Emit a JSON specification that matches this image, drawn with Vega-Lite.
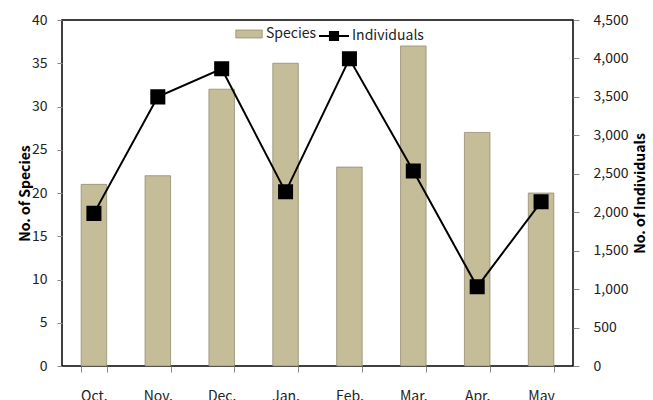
{
  "$schema": "https://vega.github.io/schema/vega-lite/v6.json",
  "width": 511,
  "height": 346,
  "autosize": {"type": "none"},
  "padding": {"left": 62, "top": 20, "right": 80, "bottom": 34},
  "background": "white",
  "config": {
    "view": {"stroke": "black", "strokeWidth": 1.5},
    "font": "Noto Sans CJK KR",
    "axis": {
      "labelFont": "Noto Sans CJK KR",
      "titleFont": "Noto Sans CJK KR",
      "labelFontSize": 14,
      "titleFontSize": 14,
      "labelColor": "#222",
      "titleColor": "black",
      "tickColor": "#888",
      "domainColor": "black",
      "grid": false
    },
    "legend": {"labelFont": "Noto Sans CJK KR", "labelFontSize": 14, "labelColor": "#222"}
  },
  "data": {
    "values": [
      {"month": "Oct.", "species": 21, "individuals": 1985},
      {"month": "Nov.", "species": 22, "individuals": 3500},
      {"month": "Dec.", "species": 32, "individuals": 3865},
      {"month": "Jan.", "species": 35, "individuals": 2265},
      {"month": "Feb.", "species": 23, "individuals": 3995},
      {"month": "Mar.", "species": 37, "individuals": 2535},
      {"month": "Apr.", "species": 27, "individuals": 1030},
      {"month": "May", "species": 20, "individuals": 2135}
    ]
  },
  "encoding": {
    "x": {
      "field": "month",
      "type": "nominal",
      "sort": null,
      "scale": {"paddingInner": 0.6, "paddingOuter": 0.3},
      "axis": {"title": null, "labelAngle": 0, "tickBand": "extent", "tickSize": 6, "labelPadding": 17, "domain": false}
    }
  },
  "layer": [
    {
      "mark": {"type": "bar", "stroke": "#8a8468", "strokeWidth": 0.7},
      "encoding": {
        "y": {
          "field": "species",
          "type": "quantitative",
          "scale": {"domain": [0, 40]},
          "axis": {"title": "No. of Species", "values": [0,5,10,15,20,25,30,35,40], "tickSize": 5, "labelPadding": 10, "titlePadding": -1, "domain": false}
        },
        "fill": {
          "datum": "Species",
          "scale": {"range": ["#C4BD97"]},
          "legend": {
            "title": null,
            "orient": "none",
            "legendX": 173,
            "legendY": 0,
            "symbolType": "M-1,-0.3H1V0.3H-1Z",
            "symbolSize": 700,
            "symbolStrokeColor": "#8a8468",
            "symbolStrokeWidth": 0.7,
            "labelOffset": 3,
            "padding": 0
          }
        }
      }
    },
    {
      "mark": {"type": "line", "color": "black", "strokeWidth": 2, "point": {"shape": "square", "size": 170, "filled": true, "color": "black"}},
      "encoding": {
        "y": {
          "field": "individuals",
          "type": "quantitative",
          "scale": {"domain": [0, 4500]},
          "axis": {"title": "No. of Individuals", "orient": "right", "values": [0,500,1000,1500,2000,2500,3000,3500,4000,4500], "format": ",.0f", "tickSize": 6, "labelPadding": 14, "titlePadding": 6, "titleAngle": 270, "titleBaseline": "top", "domain": false}
        },
        "stroke": {
          "datum": "Individuals",
          "scale": {"range": ["black"]},
          "legend": {
            "title": null,
            "orient": "none",
            "legendX": 256,
            "legendY": 0,
            "symbolType": "M-1,0H1M-0.27,-0.27H0.27V0.27H-0.27Z",
            "symbolSize": 900,
            "symbolStrokeWidth": 2,
            "symbolFillColor": "black",
            "labelOffset": 2,
            "padding": 0
          }
        }
      }
    }
  ],
  "resolve": {"scale": {"y": "independent"}}
}
